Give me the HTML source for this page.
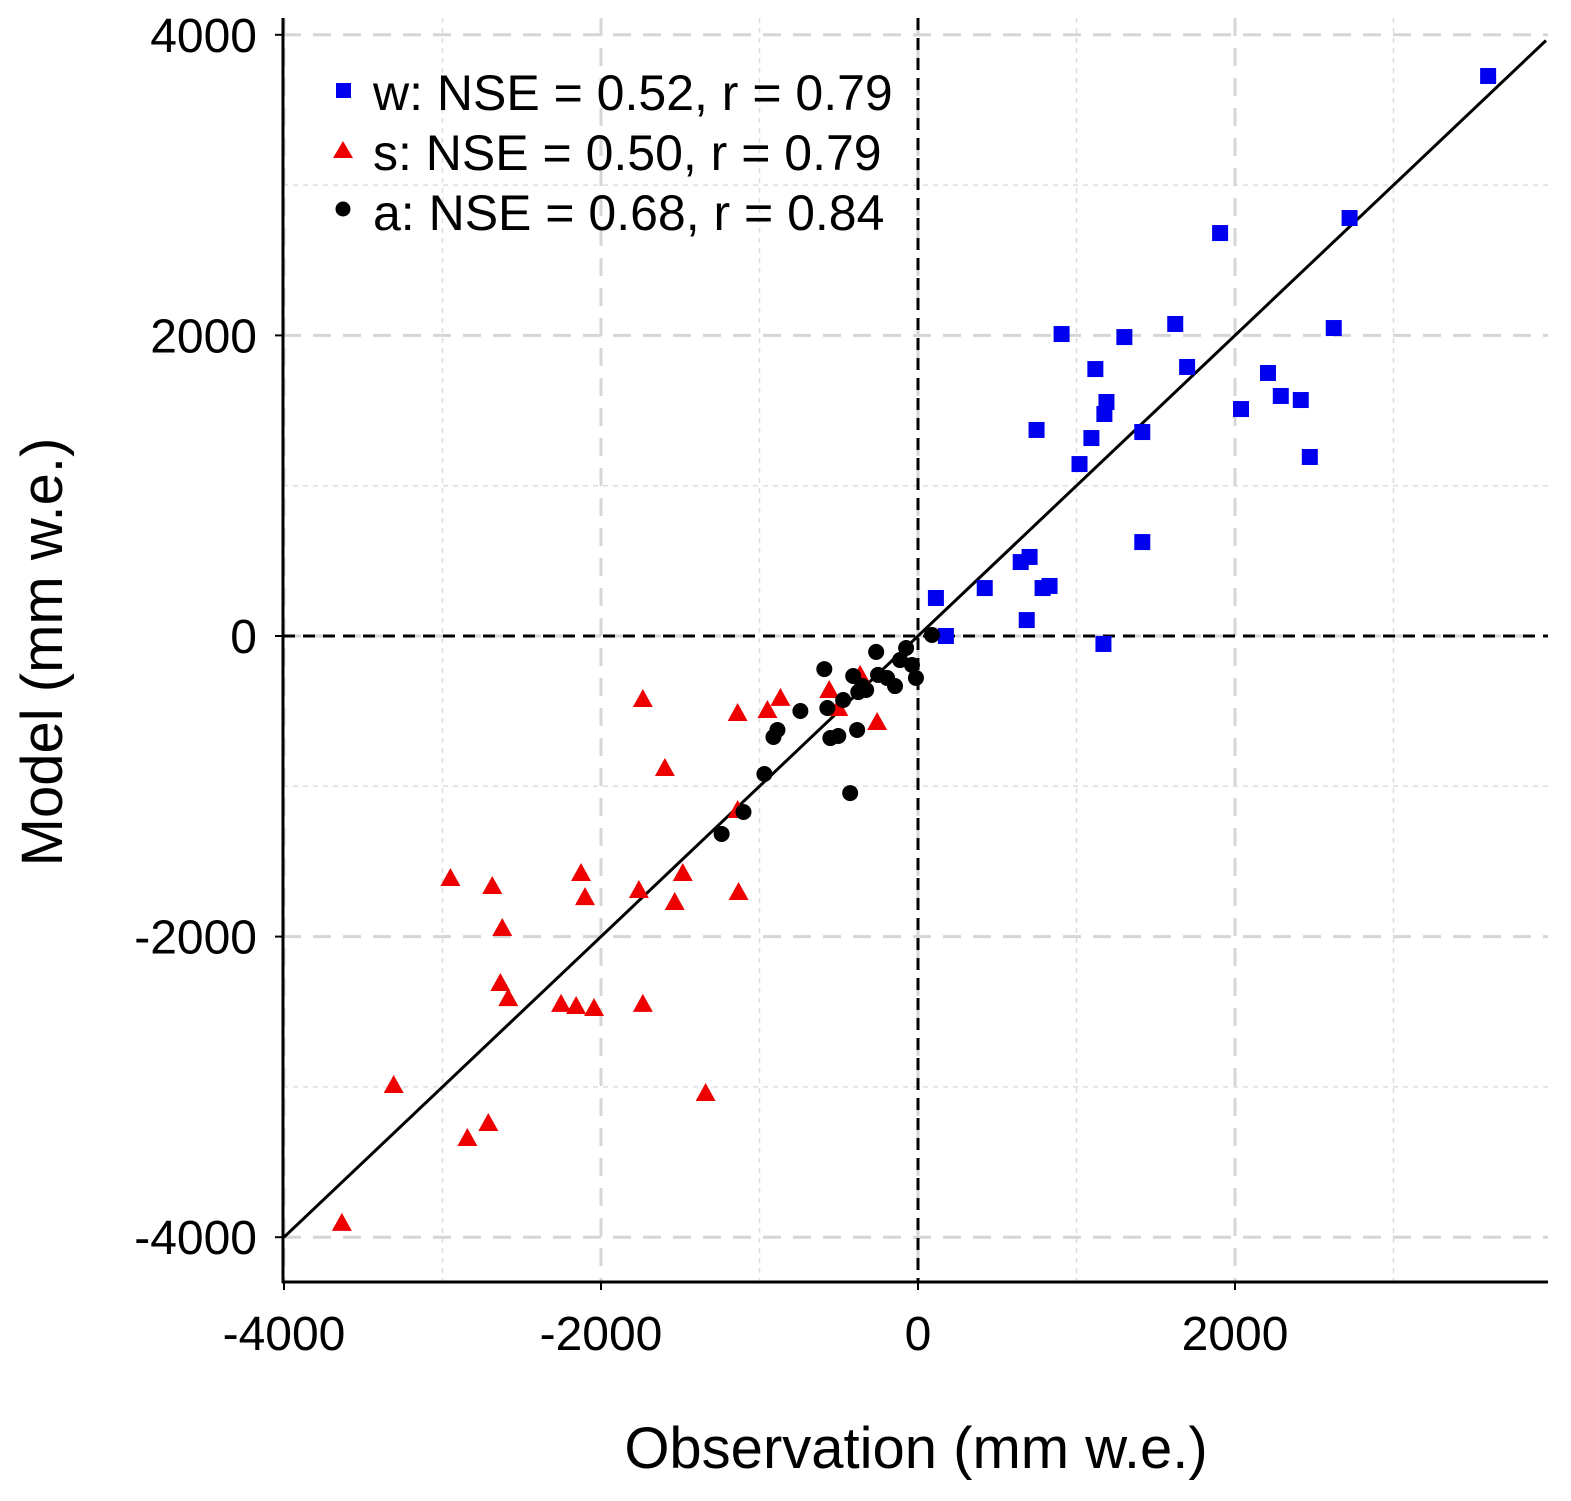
<!DOCTYPE html>
<html><head><meta charset="utf-8"><style>
html,body{margin:0;padding:0;background:#fff}
svg{display:block;font-family:"Liberation Sans",Arial,sans-serif}
</style></head><body>
<svg id="chart" width="1571" height="1501" viewBox="0 0 1571 1501" xmlns="http://www.w3.org/2000/svg">
<g id="grid"></g>
<g id="refs"></g>
<g id="marks"></g>
<g id="axes"></g>
<text x="916" y="1468" font-size="58" text-anchor="middle">Observation (mm w.e.)</text>
<text transform="translate(62,652) rotate(-90)" font-size="58" text-anchor="middle">Model (mm w.e.)</text>
<g>
<rect x="336" y="83" width="15" height="15" fill="#0000ee"/>
<text x="373" y="110" font-size="50">w: NSE = 0.52, r = 0.79</text>
<polygon points="343,141 353,158 333,158" fill="#ee0000"/>
<text x="373" y="170" font-size="50">s: NSE = 0.50, r = 0.79</text>
<circle cx="343" cy="209" r="7.5" fill="#000"/>
<text x="373" y="230" font-size="50">a: NSE = 0.68, r = 0.84</text>
</g>
</svg>
<script>
const wObs=[3597,2723,1906,906,1302,1623,2623,1119,1698,2208,1189,1176,2289,2415,2038,748,1094,1415,1019,2472,1415,648,704,421,786,830,113,686,176,1170];
const wMod=[3726,2781,2681,2009,1989,2076,2049,1776,1790,1750,1557,1477,1597,1570,1510,1371,1317,1357,1144,1191,625,492,526,319,319,333,253,106,0,-53];
const sObs=[-3635,-3308,-2843,-2711,-2950,-2686,-2623,-2635,-2585,-2252,-2157,-2044,-2126,-2101,-1761,-1736,-1535,-1484,-1597,-1736,-1340,-1132,-1138,-1138,-950,-868,-560,-503,-365,-258];
const sMod=[-3905,-2987,-3340,-3240,-1610,-1663,-1943,-2309,-2409,-2448,-2462,-2475,-1577,-1737,-1690,-2448,-1770,-1577,-878,-419,-3041,-1703,-1158,-512,-492,-412,-359,-479,-259,-572];
const aObs=[-1239,-1101,-969,-912,-887,-742,-591,-572,-553,-503,-472,-428,-409,-384,-377,-352,-327,-264,-252,-195,-145,-113,-75,-38,-13,88];
const aMod=[-1317,-1171,-918,-672,-625,-499,-220,-479,-679,-665,-426,-1045,-266,-625,-373,-333,-359,-106,-259,-279,-333,-160,-80,-193,-279,7];
const tickVals=[-4000,-2000,0,2000,4000];
const tickLabels=["-4000","-2000","0","2000","4000"];
const minorVals=[-3000,-1000,1000,3000];

const NS="http://www.w3.org/2000/svg";
const L=283,R=1548,T=18,B=1282;
const sx=v=>918+v*0.1585;
const sy=v=>636-v*0.1503;
function mk(parent,tag,attrs){const e=document.createElementNS(NS,tag);for(const k in attrs)e.setAttribute(k,attrs[k]);document.getElementById(parent).appendChild(e);return e;}

minorVals.forEach(v=>{
  let e=mk('grid','line',{x1:sx(v),x2:sx(v),y1:T,y2:B,stroke:'#ddd','stroke-width':1.5,'stroke-dasharray':'5,5'});
  
  
  e=mk('grid','line',{x1:L,x2:R,y1:sy(v),y2:sy(v),stroke:'#ddd','stroke-width':1.5,'stroke-dasharray':'5,5'});
  
  
});
tickVals.forEach((v,i)=>{
  if(sx(v)>=L-3&&sx(v)<=R){
    let e=mk('grid','line',{x1:sx(v),x2:sx(v),y1:T,y2:B,stroke:'#d6d6d6','stroke-width':3,'stroke-dasharray':'18,12'});
    
    
    e=mk('axes','line',{x1:sx(v),x2:sx(v),y1:B,y2:B+8,stroke:'#000','stroke-width':2});
    
    
    e=mk('axes','text',{x:sx(v),y:B+68,'font-size':48,'text-anchor':'middle'});
    e.textContent=tickLabels[i];
    
    
  }
  let e=mk('grid','line',{x1:L,x2:R,y1:sy(v),y2:sy(v),stroke:'#d6d6d6','stroke-width':3,'stroke-dasharray':'18,12'});
  
  
  e=mk('axes','line',{x1:L-8,x2:L,y1:sy(v),y2:sy(v),stroke:'#000','stroke-width':2});
  
  
  e=mk('axes','text',{x:L-26,y:sy(v)+17,'font-size':48,'text-anchor':'end'});
  e.textContent=tickLabels[i];
  
  
});
let r=mk('refs','line',{x1:sx(0),x2:sx(0),y1:T,y2:B,stroke:'#000','stroke-width':3,'stroke-dasharray':'12,8'});


r=mk('refs','line',{x1:L,x2:R,y1:sy(0),y2:sy(0),stroke:'#000','stroke-width':3,'stroke-dasharray':'12,8'});


r=mk('refs','line',{x1:sx(-4000),y1:sy(-4000),x2:sx(3962),y2:sy(3962),stroke:'#000','stroke-width':3});



wObs.forEach((v,i)=>{const e=mk('marks','rect',{x:sx(v)-8,y:sy(wMod[i])-8,width:16,height:16,fill:'#0000ee'});
  
  });
sObs.forEach((v,i)=>{const x=sx(v),y=sy(sMod[i]);const e=mk('marks','polygon',{points:`${x},${y-10} ${x+10},${y+8} ${x-10},${y+8}`,fill:'#ee0000'});
  
  });
aObs.forEach((v,i)=>{const e=mk('marks','circle',{cx:sx(v),cy:sy(aMod[i]),r:8,fill:'#000'});
  
  });

let a=mk('axes','line',{x1:L,x2:L,y1:T,y2:B+1,stroke:'#000','stroke-width':3});


a=mk('axes','line',{x1:L-1,x2:R,y1:B,y2:B,stroke:'#000','stroke-width':3});


</script>
</body></html>
